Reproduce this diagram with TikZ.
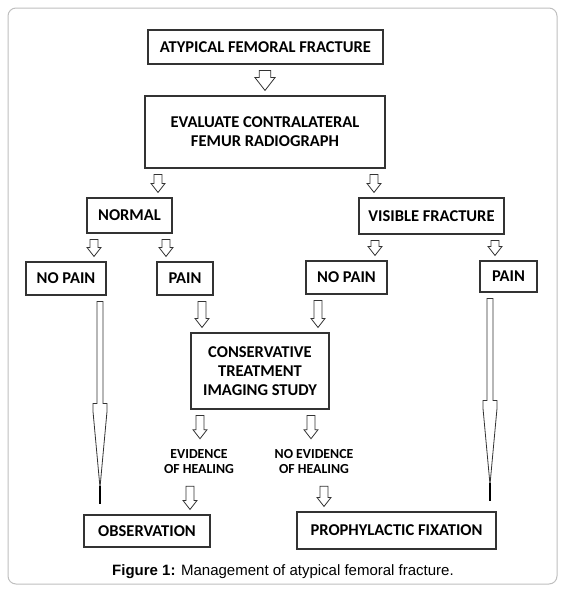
\documentclass[tikz,border=0pt]{standalone}
\usepackage{fontspec}
\setmainfont{Carlito}
\newfontfamily\capfont{Liberation Sans}
\usetikzlibrary{calc}

\tikzset{
  box/.style={draw=black!80, line width=1.1pt, align=center, inner sep=0pt,
    font=\fontsize{16.5}{19}\selectfont\bfseries},
  outcome/.style={align=center, inner sep=6pt, font=\fontsize{13.8}{15}\selectfont\bfseries},
  arrowline/.style={draw=black!80, line width=0.8pt, fill=white, line join=miter},
}

% hollow arrow at x=#2 from box #3 down to box #4, #1 = size factor
\newcommand{\blockarrow}[4][1]{%
  \draw[arrowline] let \p1=(#3.south), \p2=(#4.north) in
    (#2pt-4pt*#1,\y1-6pt) -- (#2pt+4pt*#1,\y1-6pt) -- (#2pt+4pt*#1,\y2+5pt+9pt*#1)
    -- (#2pt+7pt*#1,\y2+5pt+9pt*#1) -- (#2pt,\y2+5pt) -- (#2pt-7pt*#1,\y2+5pt+9pt*#1)
    -- (#2pt-4pt*#1,\y2+5pt+9pt*#1) -- cycle;}
% long thin arrow straight down to the outcome
\newcommand{\longarrow}[3]{%
  \draw[arrowline] let \p1=(#2.south), \p2=(#3.north) in
    (#1pt-3pt,\y1-6pt) -- (#1pt+3pt,\y1-6pt) -- (#1pt+3pt,\y2+111pt) -- (#1pt+7pt,\y2+111pt)
    -- (#1pt+7pt,\y2+103pt) -- (#1pt,\y2+27pt) -- (#1pt-7pt,\y2+103pt) -- (#1pt-7pt,\y2+111pt)
    -- (#1pt-3pt,\y2+111pt) -- cycle;
  \draw[black, line width=2pt] let \p2=(#3.north) in (#1pt,\y2+28pt) -- (#1pt,\y2+10pt);}

\begin{document}
\begin{tikzpicture}[x=1pt, y=-1pt]
  \useasboundingbox (0,0) rectangle (565,592);
  \draw[black!25, line width=1pt, rounded corners=8pt] (8,8) rectangle (557,584);

  \node[box, minimum width=235pt, minimum height=34pt] (fracture) at (265.5,47) {ATYPICAL FEMORAL FRACTURE};
  \node[box, minimum width=240pt, minimum height=72pt] (evaluate) at (265,132) {EVALUATE CONTRALATERAL\\FEMUR RADIOGRAPH};
  \node[box, minimum width=85pt, minimum height=35pt] (normal) at (129.5,215.5) {NORMAL};
  \node[box, minimum width=145pt, minimum height=36pt] (visible) at (431.5,216) {VISIBLE FRACTURE};
  \node[box, minimum width=80pt, minimum height=33pt] (nopainL) at (66,278.5) {NO PAIN};
  \node[box, minimum width=56pt, minimum height=33pt] (painL) at (185,278.5) {PAIN};
  \node[box, minimum width=81pt, minimum height=33pt] (nopainR) at (346.5,277.5) {NO PAIN};
  \node[box, minimum width=57pt, minimum height=31pt] (painR) at (508.5,276.5) {PAIN};
  \node[box, minimum width=138pt, minimum height=76pt] (conserv) at (260,371) {CONSERVATIVE\\TREATMENT\\IMAGING STUDY};
  \node[outcome] (healing) at (199,462) {EVIDENCE\\OF HEALING};
  \node[outcome] (nohealing) at (314,462) {NO EVIDENCE\\OF HEALING};
  \node[box, minimum width=126pt, minimum height=32pt] (observ) at (147,531) {OBSERVATION};
  \node[box, minimum width=199pt, minimum height=37pt] (fixation) at (396.5,530.5) {PROPHYLACTIC FIXATION};

  \blockarrow[1.45]{265}{fracture}{evaluate}
  \blockarrow{158}{evaluate}{normal}
  \blockarrow{374}{evaluate}{visible}
  \blockarrow{94}{normal}{nopainL}
  \blockarrow{166}{normal}{painL}
  \blockarrow{375}{visible}{nopainR}
  \blockarrow{495}{visible}{painR}
  \blockarrow{202}{painL}{conserv}
  \blockarrow{318}{nopainR}{conserv}
  \blockarrow{200}{conserv}{healing}
  \blockarrow{311}{conserv}{nohealing}
  \blockarrow{190}{healing}{observ}
  \blockarrow{324}{nohealing}{fixation}
  \longarrow{100}{nopainL}{observ}
  \longarrow{490}{painR}{fixation}

  \node[font=\capfont\fontsize{15}{18}\selectfont] (caption) at (283,572) {\textbf{Figure 1:} Management of atypical femoral fracture.};
\end{tikzpicture}
\end{document}
